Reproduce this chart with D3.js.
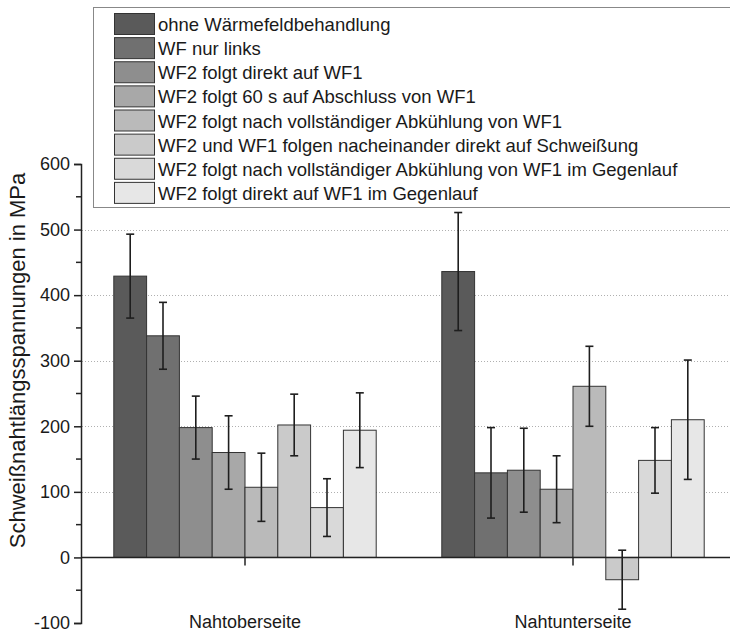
<!DOCTYPE html>
<html><head><meta charset="utf-8">
<script src="https://cdn.jsdelivr.net/npm/d3@7"></script>
<style>body{margin:0;background:#fff}svg{display:block}text{font-family:"Liberation Sans",Arial,sans-serif}</style>
</head><body>
<svg id="c" width="730" height="632"></svg>
<script>
const categories = ["Nahtoberseite", "Nahtunterseite"];
const seriesNames = [
  "ohne Wärmefeldbehandlung",
  "WF nur links",
  "WF2 folgt direkt auf WF1",
  "WF2 folgt 60 s auf Abschluss von WF1",
  "WF2 folgt nach vollständiger Abkühlung von WF1",
  "WF2 und WF1 folgen nacheinander direkt auf Schweißung",
  "WF2 folgt nach vollständiger Abkühlung von WF1 im Gegenlauf",
  "WF2 folgt direkt auf WF1 im Gegenlauf"
];
const seriesColors = ["#5a5a5a","#707070","#8e8e8e","#a8a8a8","#bababa","#cacaca","#d9d9d9","#e7e7e7"];
// values per series: [Nahtoberseite, Nahtunterseite]
const meanValues = [
  [429, 436],
  [338, 129],
  [198, 133],
  [160, 104],
  [107, 261],
  [202, -34],
  [76, 148],
  [194, 210]
];
const errValues = [
  [64, 90],
  [51, 69],
  [48, 64],
  [56, 51],
  [52, 61],
  [47, 45],
  [44, 50],
  [57, 91]
];
const yTicks = [-100, 0, 100, 200, 300, 400, 500, 600];
const gridTicks = [100, 200, 300, 400, 500];
const yLabel = "Schweißnahtlängsspannungen in MPa";

const svg = d3.select("#c");
const xLeft = 81, xRight = 737;
const y = d3.scaleLinear().domain([-100, 600]).range([623, 164]);
const x0 = d3.scalePoint().domain(categories).range([xLeft, xRight]).padding(0.5);
const groupW = x0.step() * 0.8;
const x1 = d3.scaleBand().domain(d3.range(seriesNames.length)).range([-groupW/2, groupW/2]).padding(0);

// grid
svg.append("g").selectAll("line").data(gridTicks).join("line")
  .attr("x1", xLeft + 1).attr("x2", 730)
  .attr("y1", d => Math.round(y(d)) + 0.5).attr("y2", d => Math.round(y(d)) + 0.5)
  .attr("stroke", "#b0b0b0").attr("stroke-width", 1).attr("stroke-dasharray", "1,2");

// bars
const data = [];
seriesNames.forEach((s, i) => categories.forEach((c, j) => data.push({i, c, v: meanValues[i][j], e: errValues[i][j]})));
svg.append("g").selectAll("rect").data(data).join("rect")
  .attr("x", d => x0(d.c) + x1(d.i))
  .attr("width", x1.bandwidth())
  .attr("y", d => Math.min(y(d.v), y(0)))
  .attr("height", d => Math.abs(y(d.v) - y(0)))
  .attr("fill", d => seriesColors[d.i])
  .attr("stroke", "#333").attr("stroke-width", 1);

// error bars
const eg = svg.append("g").attr("stroke", "#1e1e1e").attr("stroke-width", 1.6);
data.forEach(d => {
  const cx = x0(d.c) + x1(d.i) + x1.bandwidth()/2;
  eg.append("line").attr("x1", cx).attr("x2", cx).attr("y1", y(d.v + d.e)).attr("y2", y(d.v - d.e));
  [d.v + d.e, d.v - d.e].forEach(t => eg.append("line").attr("x1", cx - 4).attr("x2", cx + 4).attr("y1", y(t)).attr("y2", y(t)));
});

// zero axis
svg.append("line").attr("x1", xLeft).attr("x2", 730).attr("y1", y(0)).attr("y2", y(0))
  .attr("stroke", "#222").attr("stroke-width", 1.5);
svg.append("g").selectAll("line").data(categories).join("line")
  .attr("x1", d => x0(d)).attr("x2", d => x0(d)).attr("y1", y(0)).attr("y2", y(0) + 8)
  .attr("stroke", "#222").attr("stroke-width", 1.5);
svg.append("g").selectAll("text").data(categories).join("text")
  .attr("x", d => x0(d)).attr("y", 628).attr("text-anchor", "middle")
  .attr("font-size", 18).attr("fill", "#1a1a1a").text(d => d);

// y axis
const yAxis = d3.axisLeft(y).tickValues(yTicks).tickSize(7).tickPadding(4).tickFormat(d => String(d));
const ya = svg.append("g").attr("transform", `translate(${xLeft},0)`).call(yAxis);
ya.select(".domain").attr("stroke", "#222").attr("stroke-width", 1.5);
ya.selectAll(".tick line").attr("stroke", "#222").attr("stroke-width", 1.5);
ya.selectAll(".tick text").attr("font-size", 18).attr("fill", "#1a1a1a");
const minor = d3.range(-50, 600, 100);
svg.append("g").selectAll("line").data(minor).join("line")
  .attr("x1", xLeft - 5).attr("x2", xLeft).attr("y1", d => y(d)).attr("y2", d => y(d))
  .attr("stroke", "#222").attr("stroke-width", 1.5);

svg.append("text").attr("transform", `translate(25,${(164+557)/2}) rotate(-90)`)
  .attr("text-anchor", "middle").attr("font-size", 22).attr("fill", "#1a1a1a").text(yLabel);

// legend
const lg = svg.append("g");
lg.append("rect").attr("x", 93.5).attr("y", 7.5).attr("width", 660).attr("height", 200)
  .attr("fill", "#fff").attr("stroke", "#888").attr("stroke-width", 1);
const rowY = d3.scaleBand().domain(d3.range(seriesNames.length)).range([12, 205]);
seriesNames.forEach((s, i) => {
  lg.append("rect").attr("x", 114.5).attr("y", rowY(i) + 1.5).attr("width", 40).attr("height", 21)
    .attr("fill", seriesColors[i]).attr("stroke", "#333").attr("stroke-width", 1);
  lg.append("text").attr("x", 158).attr("y", rowY(i) + 19).attr("font-size", 18.5).attr("fill", "#1a1a1a").text(s);
});
</script>
</body></html>
